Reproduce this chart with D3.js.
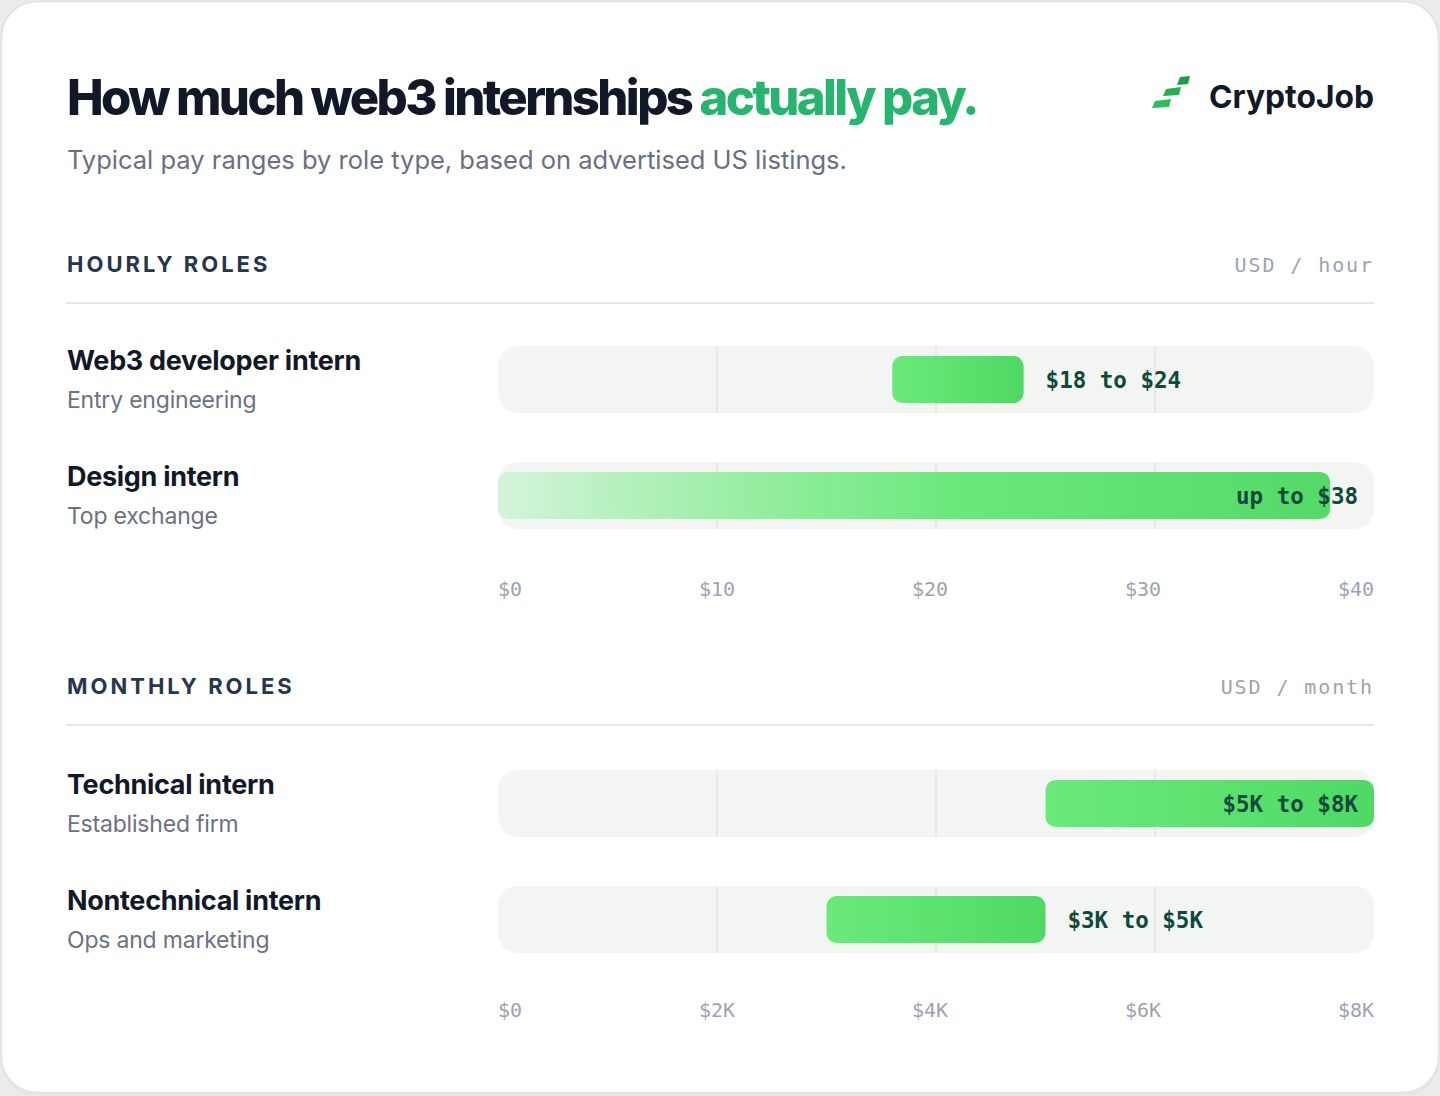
<!DOCTYPE html>
<html><head><meta charset="utf-8">
<script src="https://cdn.jsdelivr.net/npm/d3@7"></script>
<style>html,body{margin:0;padding:0;background:#ececec;} svg{display:block}</style>
</head><body>
<svg id="chart" width="1440" height="1096"></svg>
<script>
// ---------- data ----------
const titleMain = "How much web3 internships ";
const titleAccent = "actually pay.";
const subtitle = "Typical pay ranges by role type, based on advertised US listings.";
const brand = "CryptoJob";

const hourlyHeader = "HOURLY ROLES";
const hourlyUnit = "USD / hour";
const hourlyRoles = ["Web3 developer intern", "Design intern"];
const hourlySubs = ["Entry engineering", "Top exchange"];
const hourlyLow = [18, 0];
const hourlyHigh = [24, 38];
const hourlyOpenLow = [false, true];           // "up to" ranges fade in from zero
const hourlyLabels = ["$18 to $24", "up to $38"];
const hourlyTicks = [0, 10, 20, 30, 40];
const hourlyTickLabels = ["$0", "$10", "$20", "$30", "$40"];

const monthlyHeader = "MONTHLY ROLES";
const monthlyUnit = "USD / month";
const monthlyRoles = ["Technical intern", "Nontechnical intern"];
const monthlySubs = ["Established firm", "Ops and marketing"];
const monthlyLow = [5000, 3000];
const monthlyHigh = [8000, 5000];
const monthlyOpenLow = [false, false];
const monthlyLabels = ["$5K to $8K", "$3K to $5K"];
const monthlyTicks = [0, 2000, 4000, 6000, 8000];
const monthlyTickLabels = ["$0", "$2K", "$4K", "$6K", "$8K"];

// ---------- setup ----------
const svg = d3.select("#chart");
const SANS = "Inter, 'Noto Sans', sans-serif";
const MONO = "'DejaVu Sans Mono', 'Liberation Mono', monospace";
const INK = "#111827";
const L = 66, R = 1374, trackL = 498, trackR = 1374;

const defs = svg.append("defs");
const g1 = defs.append("linearGradient").attr("id", "barGrad").attr("x1", "0%").attr("x2", "100%");
g1.append("stop").attr("offset", "0%").attr("stop-color", "#6aea7b");
g1.append("stop").attr("offset", "100%").attr("stop-color", "#4fd964");
const g2 = defs.append("linearGradient").attr("id", "fadeGrad").attr("x1", "0%").attr("x2", "100%");
g2.append("stop").attr("offset", "0%").attr("stop-color", "#d3f4d9");
g2.append("stop").attr("offset", "28%").attr("stop-color", "#98ee a3".replace(" ", ""));
g2.append("stop").attr("offset", "55%").attr("stop-color", "#66e878");
g2.append("stop").attr("offset", "100%").attr("stop-color", "#4fd964");
const sh = defs.append("filter").attr("id", "shadow").attr("x", "-5%").attr("y", "-5%").attr("width", "110%").attr("height", "110%");
sh.append("feDropShadow").attr("dx", 0).attr("dy", 1).attr("stdDeviation", 1.5).attr("flood-color", "#000").attr("flood-opacity", 0.08);

// card
svg.append("rect").attr("x", 1.5).attr("y", 1.5).attr("width", 1437).attr("height", 1091)
  .attr("rx", 36).attr("fill", "#fff").attr("stroke", "#e2e2e2").attr("stroke-width", 1.5).attr("filter", "url(#shadow)");

function fitFont(sel, target, start) {
  let fs = start;
  sel.style("font-size", fs + "px");
  for (let i = 0; i < 4; i++) {
    const w = sel.node().getComputedTextLength();
    fs = fs * target / w;
    sel.style("font-size", fs + "px");
  }
  return fs;
}

// title
const title = svg.append("text").attr("x", 67).attr("y", 115)
  .style("font-family", SANS).style("font-weight", 800).style("letter-spacing", "-2.6px");
title.append("tspan").attr("fill", INK).text(titleMain);
title.append("tspan").attr("fill", "#27b46e").text(titleAccent);
fitFont(title, 910, 52);

const sub = svg.append("text").attr("x", 67).attr("y", 169).attr("fill", "#687080")
  .style("font-family", SANS).style("font-weight", 400).text(subtitle);
fitFont(sub, 780, 25);

// logo
const logo = svg.append("g");
const steps = [
  [[1177, 85], [1180, 77], [1190, 76], [1188, 84]],
  [[1163, 96], [1166, 89], [1181, 87], [1179, 95]],
  [[1152, 108], [1155, 101], [1171, 99], [1169, 107]]
];
logo.selectAll("polygon").data(steps).join("polygon")
  .attr("points", d => d.map(p => p.join(",")).join(" "))
  .attr("fill", (d, i) => ["#1f9a4a", "#27ad52", "#2fbd5a"][i]);
const brandT = svg.append("text").attr("x", 1374).attr("y", 108).attr("text-anchor", "end")
  .attr("fill", INK).style("font-family", SANS).style("font-weight", 700).text(brand);
fitFont(brandT, 165, 32);

// ---------- sections ----------
function section(cfg) {
  const g = svg.append("g");
  const x = d3.scaleLinear().domain([cfg.ticks[0], cfg.ticks[cfg.ticks.length - 1]]).range([trackL, trackR]);

  g.append("text").attr("x", 67).attr("y", cfg.top + 8).attr("fill", "#27364a")
    .style("font-family", SANS).style("font-weight", 700).style("font-size", "22px")
    .style("letter-spacing", "3px").text(cfg.header);
  g.append("text").attr("x", R).attr("y", cfg.top + 8).attr("text-anchor", "end").attr("fill", "#9ca3af")
    .style("font-family", MONO).style("font-size", "20px").style("letter-spacing", "1.9px").text(cfg.unit);
  g.append("line").attr("x1", L).attr("x2", R).attr("y1", cfg.top + 39).attr("y2", cfg.top + 39)
    .attr("stroke", "#e5e7eb").attr("stroke-width", 2);

  const rowTop = i => cfg.top + cfg.rowOffset + i * 116;
  const trackH = 67, barH = 47;

  cfg.roles.forEach((role, i) => {
    const ty = rowTop(i);
    g.append("text").attr("x", 67).attr("y", ty + 24).attr("fill", INK)
      .style("font-family", SANS).style("font-weight", 700).style("font-size", "27px")
      .style("letter-spacing", "-0.3px").text(role);
    g.append("text").attr("x", 67).attr("y", ty + 62).attr("fill", "#6b7280")
      .style("font-family", SANS).style("font-weight", 400).style("font-size", "23px")
      .style("letter-spacing", "-0.2px").text(cfg.subs[i]);

    g.append("rect").attr("x", trackL).attr("y", ty).attr("width", trackR - trackL).attr("height", trackH)
      .attr("rx", 20).attr("fill", "#f3f5f3");
    g.selectAll(null).data(cfg.ticks.slice(1, -1)).join("line")
      .attr("x1", d => x(d)).attr("x2", d => x(d)).attr("y1", ty).attr("y2", ty + trackH)
      .attr("stroke", "#e0e3e0").attr("stroke-width", 1.5);

    const x0 = x(cfg.low[i]), x1 = x(cfg.high[i]);
    g.append("rect").attr("x", x0).attr("y", ty + 10).attr("width", x1 - x0).attr("height", barH)
      .attr("rx", 10).attr("fill", cfg.open[i] ? "url(#fadeGrad)" : "url(#barGrad)")
      .attr("opacity", cfg.open[i] ? 0.97 : 1);

    const inside = x1 > trackR - 60;
    g.append("text")
      .attr("x", inside ? trackR - 16 : x1 + 22)
      .attr("y", ty + trackH / 2 + 8)
      .attr("text-anchor", inside ? "end" : "start")
      .attr("fill", "#0d4a3b")
      .style("font-family", MONO).style("font-weight", 700).style("font-size", "22.5px")
      .text(cfg.labels[i]);
  });

  // axis labels laid out edge to edge
  const ay = cfg.top + cfg.axisOffset;
  const labs = g.selectAll(".tl").data(cfg.tickLabels).join("text").attr("class", "tl")
    .attr("y", ay).attr("fill", "#9ca3af")
    .style("font-family", MONO).style("font-size", "20px").text(d => d);
  const widths = labs.nodes().map(n => n.getComputedTextLength());
  const gap = ((trackR - trackL) - d3.sum(widths)) / (widths.length - 1);
  let cx = trackL;
  const starts = widths.map(w => { const s = cx; cx += w + gap; return s; });
  labs.attr("x", (d, i) => starts[i]);
}

section({ top: 264, rowOffset: 82, axisOffset: 332, header: hourlyHeader, unit: hourlyUnit,
  roles: hourlyRoles, subs: hourlySubs, low: hourlyLow, high: hourlyHigh, open: hourlyOpenLow,
  labels: hourlyLabels, ticks: hourlyTicks, tickLabels: hourlyTickLabels });
section({ top: 686, rowOffset: 84, axisOffset: 331, header: monthlyHeader, unit: monthlyUnit,
  roles: monthlyRoles, subs: monthlySubs, low: monthlyLow, high: monthlyHigh, open: monthlyOpenLow,
  labels: monthlyLabels, ticks: monthlyTicks, tickLabels: monthlyTickLabels });
</script>
</body></html>
